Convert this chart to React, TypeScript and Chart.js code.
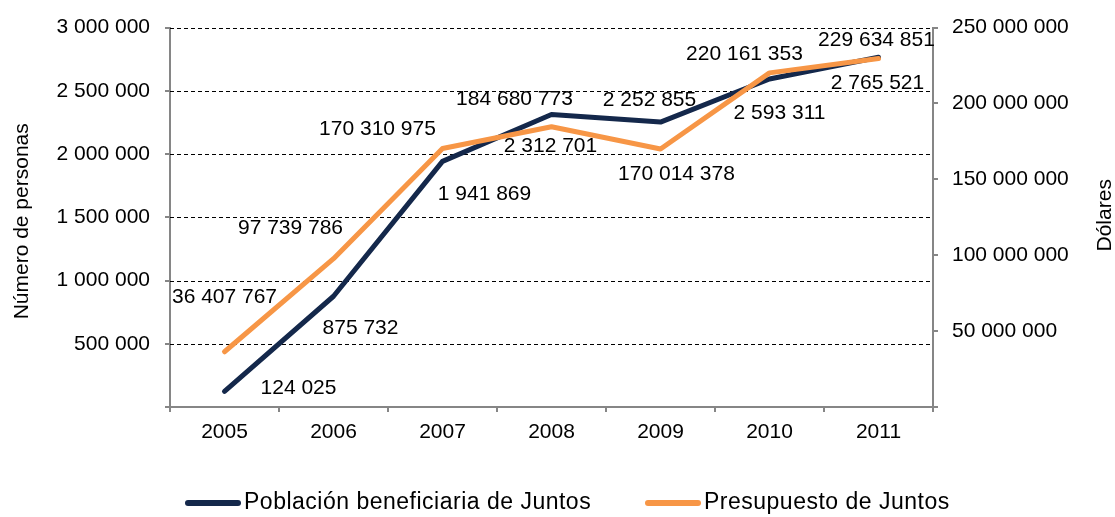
import React, { useEffect, useRef } from "react";
import { Chart, registerables } from "chart.js";

Chart.register(...registerables);

const years = ["2005", "2006", "2007", "2008", "2009", "2010", "2011"];
const poblacion = [124025, 875732, 1941869, 2312701, 2252855, 2593311, 2765521];
const presupuesto = [36407767, 97739786, 170310975, 184680773, 170014378, 220161353, 229634851];
const seriesNames = ["Población beneficiaria de Juntos", "Presupuesto de Juntos"];
const leftTitle = "Número de personas";
const rightTitle = "Dólares";

// label offsets (px) relative to each point
const poblacionLabelOffsets = [[74, -3], [27, 32], [42, 33], [-1, 32], [-11, -22], [10, 34], [-1, 26]];
const presupuestoLabelOffsets = [[0, -55], [-43, -30], [-65, -19], [-37, -28], [16, 25], [-25, -19], [-2, -18]];

const NAVY = "#14284b";
const ORANGE = "#f79646";
const AXIS = "#868686";
const FONT = "'Liberation Sans', Arial, sans-serif";

const fmt = (v: number) => String(Math.round(v)).replace(/\B(?=(\d{3})+(?!\d))/g, " ");

const decorPlugin = {
  id: "decor",
  beforeDatasetsDraw(chart: any) {
    const { ctx, chartArea } = chart;
    const y = chart.scales.y;
    ctx.save();
    ctx.strokeStyle = "#000";
    ctx.lineWidth = 1;
    ctx.setLineDash([4, 3]);
    y.ticks.forEach((t: any) => {
      if (t.value <= 0) return;
      const py = Math.round(y.getPixelForValue(t.value)) + 0.5;
      ctx.beginPath();
      ctx.moveTo(chartArea.left, py);
      ctx.lineTo(chartArea.right, py);
      ctx.stroke();
    });
    ctx.restore();
  },
  afterDatasetsDraw(chart: any) {
    const { ctx } = chart;
    ctx.save();
    ctx.font = `21px ${FONT}`;
    ctx.fillStyle = "#000";
    ctx.textAlign = "center";
    ctx.textBaseline = "middle";
    const offs = [poblacionLabelOffsets, presupuestoLabelOffsets];
    chart.data.datasets.forEach((ds: any, di: number) => {
      const meta = chart.getDatasetMeta(di);
      meta.data.forEach((pt: any, i: number) => {
        const [dx, dy] = offs[di][i];
        ctx.fillText(fmt(ds.data[i]), pt.x + dx, pt.y + dy);
      });
    });
    ctx.restore();
  },
  afterDraw(chart: any) {
    const { ctx, chartArea } = chart;
    const cy = (chartArea.top + chartArea.bottom) / 2;
    ctx.save();
    ctx.fillStyle = "#000";
    ctx.font = `21px ${FONT}`;
    ctx.textAlign = "center";
    ctx.textBaseline = "middle";
    ctx.save();
    ctx.translate(22, cy + 4);
    ctx.rotate(-Math.PI / 2);
    ctx.fillText(leftTitle, 0, 0);
    ctx.restore();
    ctx.save();
    ctx.translate(1105, cy - 2);
    ctx.rotate(-Math.PI / 2);
    ctx.fillText(rightTitle, 0, 0);
    ctx.restore();

    // legend
    const ly = 503;
    const items = [
      { x: 185, color: NAVY, text: seriesNames[0] },
      { x: 645, color: ORANGE, text: seriesNames[1] },
    ];
    ctx.font = `23px ${FONT}`;
    (ctx as any).letterSpacing = "0.5px";
    ctx.textAlign = "left";
    items.forEach((it) => {
      ctx.strokeStyle = it.color;
      ctx.lineWidth = 6;
      ctx.lineCap = "round";
      ctx.beginPath();
      ctx.moveTo(it.x + 3, ly);
      ctx.lineTo(it.x + 53, ly);
      ctx.stroke();
      ctx.fillText(it.text, it.x + 59, ly);
    });
    ctx.restore();
  },
};

export default function App() {
  const ref = useRef<HTMLCanvasElement>(null);
  useEffect(() => {
    const chart = new Chart(ref.current as HTMLCanvasElement, {
      type: "line",
      data: {
        labels: years,
        datasets: [
          {
            label: seriesNames[0],
            data: poblacion,
            yAxisID: "y",
            borderColor: NAVY,
            backgroundColor: NAVY,
            borderWidth: 5,
            pointRadius: 0,
            tension: 0,
            borderJoinStyle: "round",
            borderCapStyle: "round",
            order: 2,
          },
          {
            label: seriesNames[1],
            data: presupuesto,
            yAxisID: "y1",
            borderColor: ORANGE,
            backgroundColor: ORANGE,
            borderWidth: 5,
            pointRadius: 0,
            tension: 0,
            borderJoinStyle: "round",
            borderCapStyle: "round",
            order: 1,
          },
        ],
      },
      options: {
        responsive: false,
        animation: false,
        devicePixelRatio: 1,
        layout: { padding: { top: 26, left: 0, right: 0, bottom: 0 } },
        plugins: { legend: { display: false }, tooltip: { enabled: false } },
        scales: {
          x: {
            offset: true,
            grid: {
              display: true,
              drawOnChartArea: false,
              offset: true,
              tickLength: 5,
              color: AXIS,
              lineWidth: 2,
            },
            border: { color: AXIS, width: 2 },
            ticks: { color: "#000", font: { family: FONT, size: 21 }, padding: 8, maxRotation: 0 },
            afterFit: (s: any) => {
              s.height = 110;
            },
          },
          y: {
            position: "left",
            min: 0,
            max: 3000000,
            grid: { drawOnChartArea: false, tickLength: 5, color: AXIS, lineWidth: 2 },
            border: { color: AXIS, width: 2 },
            ticks: {
              stepSize: 500000,
              color: "#000",
              font: { family: FONT, size: 21 },
              padding: 15,
              callback: (v: any) => (v === 0 ? "" : fmt(v)),
            },
            afterFit: (s: any) => {
              s.width = 170;
            },
          },
          y1: {
            position: "right",
            min: 0,
            max: 250000000,
            grid: { drawOnChartArea: false, tickLength: 5, color: AXIS, lineWidth: 2 },
            border: { color: AXIS, width: 2 },
            ticks: {
              stepSize: 50000000,
              color: "#000",
              font: { family: FONT, size: 21 },
              padding: 14,
              callback: (v: any) => (v === 0 ? "" : fmt(v)),
            },
            afterFit: (s: any) => {
              s.width = 182;
            },
          },
        },
      },
      plugins: [decorPlugin],
    } as any);
    return () => chart.destroy();
  }, []);
  return (
    <div style={{ position: "fixed", left: 0, top: 0, width: 1115, height: 517, background: "#fff" }}>
      <canvas ref={ref} width={1115} height={517} />
    </div>
  );
}
